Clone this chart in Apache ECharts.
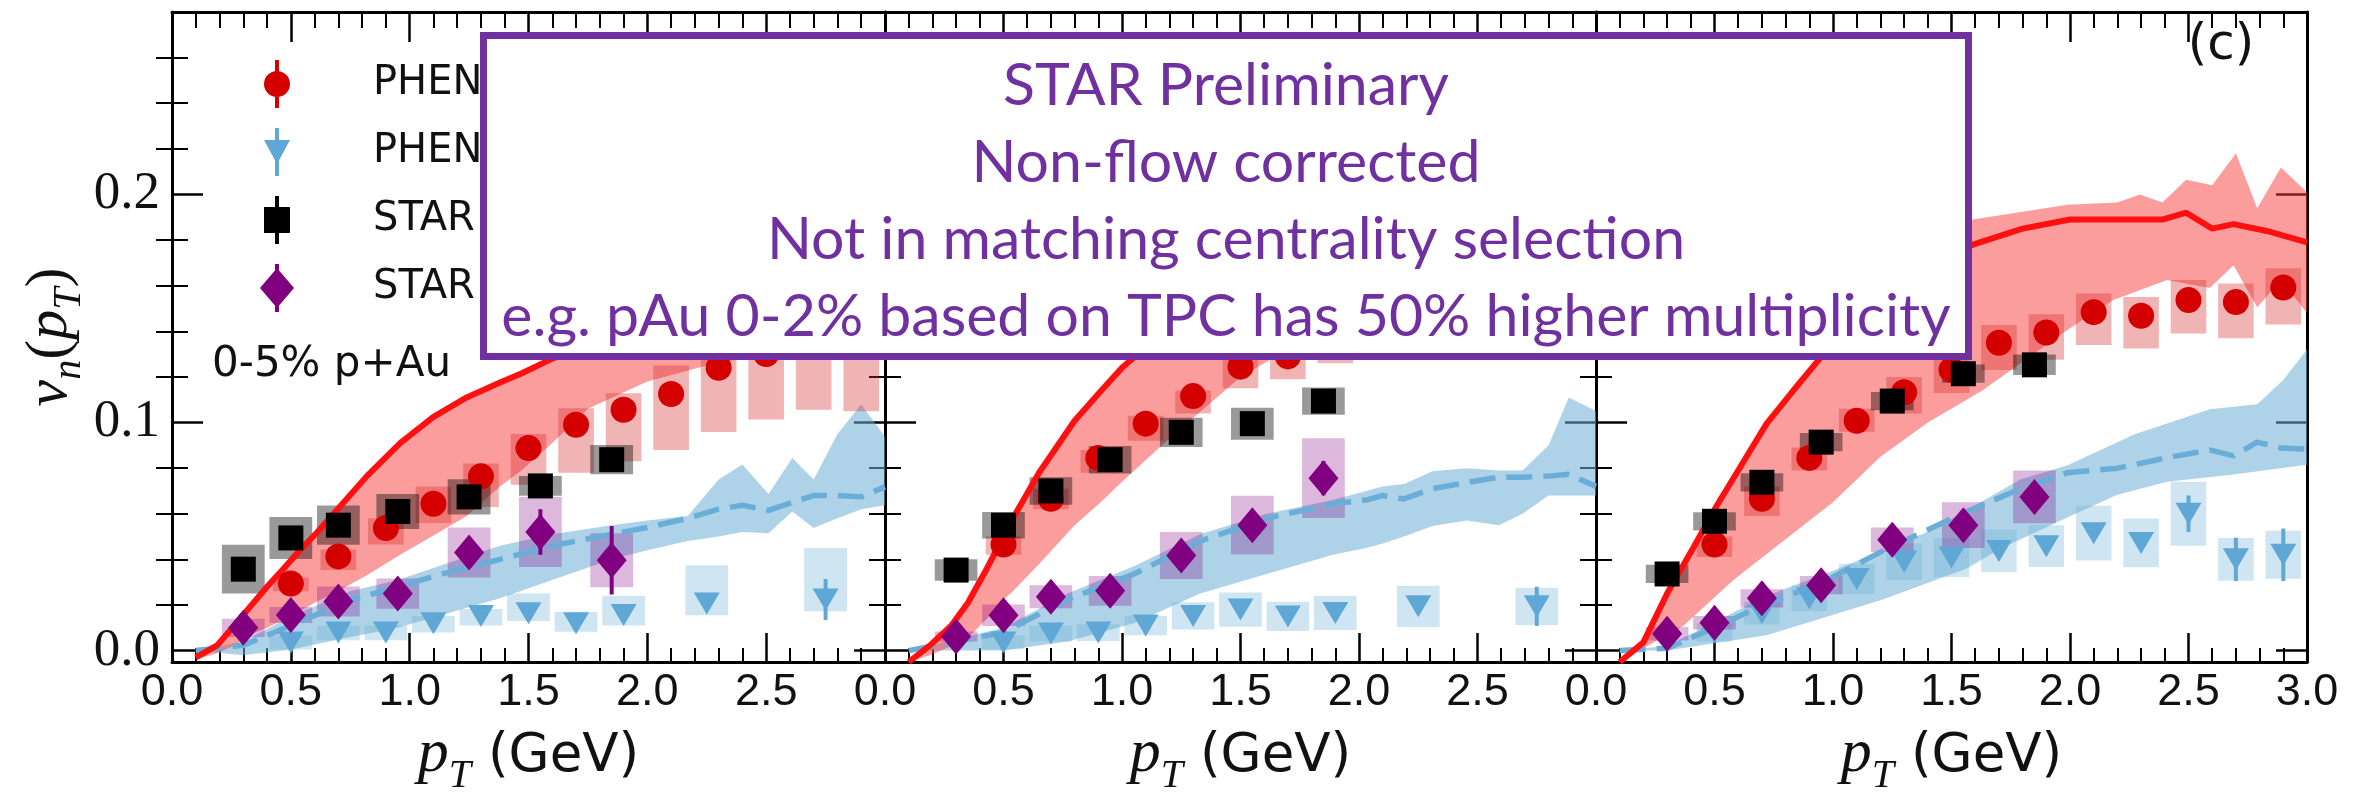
<!DOCTYPE html>
<html><head><meta charset="utf-8">
<script src="https://cdn.jsdelivr.net/npm/echarts@6/dist/echarts.min.js"></script>
<style>html,body{margin:0;padding:0;background:#fff}#c{width:2361px;height:801px}</style>
</head><body><div id="c"></div>
<script>
// ================= DATA =================
const yMajorTicks = [0.0, 0.1, 0.2];
const yMinorTicks = [0.02, 0.04, 0.06, 0.08, 0.12, 0.14, 0.16, 0.18, 0.22, 0.24, 0.26];
const legendNames = ['PHENIX v2', 'PHENIX v3', 'STAR v2', 'STAR v3'];
const annotationLines = ['STAR Preliminary', 'Non-flow corrected', 'Not in matching centrality selection',
  'e.g. pAu 0-2% based on TPC has 50% higher multiplicity'];

// bin centres
const phenixV2Pt = [0.5, 0.7, 0.9, 1.1, 1.3, 1.5, 1.7, 1.9, 2.1, 2.3, 2.5, 2.7, 2.9];
const phenixV3PtA = [0.5, 0.7, 0.9, 1.1, 1.3, 1.5, 1.7, 1.9, 2.25, 2.75];
const phenixV3PtB = [0.5, 0.7, 0.9, 1.1, 1.3, 1.5, 1.7, 1.9, 2.1, 2.3, 2.5, 2.7, 2.9];
const p2PhenixV2Pt = [0.5, 0.7, 0.9, 1.1, 1.3, 1.5, 1.7, 1.9];
const starPt = [0.3, 0.5, 0.7, 0.95, 1.25, 1.55, 1.85];

// ---------- panel 1 ----------
const p1PhenixV2   = [0.0294, 0.0413, 0.0537, 0.0644, 0.0764, 0.0888, 0.0990, 0.1056, 0.1125, 0.1240, 0.1300, 0.1370, 0.1400];
const p1PhenixV2Lo = [0.0260, 0.0353, 0.0465, 0.0560, 0.0630, 0.0727, 0.0780, 0.0830, 0.0880, 0.0958, 0.1013, 0.1056, 0.1049];
const p1PhenixV2Hi = [0.0320, 0.0443, 0.0580, 0.0720, 0.0820, 0.0950, 0.1063, 0.1128, 0.1250, 0.1450, 0.1550, 0.1650, 0.1700];
const p1PhenixV3   = [0.0036, 0.0079, 0.0079, 0.0120, 0.0152, 0.0164, 0.0120, 0.0156, 0.0207, 0.0224];
const p1PhenixV3Lo = [0.0005, 0.0045, 0.0045, 0.0079, 0.0110, 0.0130, 0.0083, 0.0110, 0.0155, 0.0173];
const p1PhenixV3Hi = [0.0065, 0.0110, 0.0110, 0.0152, 0.0182, 0.0250, 0.0170, 0.0240, 0.0374, 0.0450];
const p1PhenixV3Err = [0, 0, 0, 0, 0, 0, 0, 0, 0, 0.0090];
const p1StarV2     = [0.0357, 0.0494, 0.0550, 0.0610, 0.0674, 0.0722, 0.0837];
const p1StarV2Sys  = [0.0107, 0.0092, 0.0086, 0.0077, 0.0077, 0.0043, 0.0064];
const p1StarV3     = [0.0100, 0.0156, 0.0215, 0.0250, 0.0430, 0.0520, 0.0396];
const p1StarV3Sys  = [0.0040, 0.0035, 0.0066, 0.0066, 0.0110, 0.0154, 0.0118];
const p1StarV3Err  = [0, 0, 0, 0, 0, 0.0100, 0.0150];
const p1ThV2Pt = [0.10, 0.19, 0.26, 0.33, 0.40, 0.47, 0.54, 0.61, 0.68, 0.82, 0.96, 1.10, 1.24, 1.38, 1.47, 1.60, 1.75, 2.00, 2.25, 2.50, 2.75, 3.00];
const p1ThV2   = [-0.003, 0.0023, 0.0108, 0.0194, 0.0280, 0.0360, 0.0442, 0.0518, 0.0600, 0.0765, 0.0910, 0.1025, 0.1110, 0.1175, 0.1215, 0.1280, 0.1350, 0.1440, 0.1510, 0.1560, 0.1600, 0.1620];
const p1ThV2Lo = [-0.004, -0.001, 0.0020, 0.0072, 0.0100, 0.0135, 0.0175, 0.0215, 0.0250, 0.0330, 0.0420, 0.0505, 0.0590, 0.0720, 0.0790, 0.0910, 0.1060, 0.1180, 0.1250, 0.1300, 0.1330, 0.1350];
const p1ThV3Pt = [0.10, 0.30, 0.50, 0.75, 0.95, 1.15, 1.38, 1.60, 1.85, 2.00, 2.17, 2.30, 2.40, 2.51, 2.61, 2.70, 2.80, 2.90, 3.00];
const p1ThV3   = [0.000, 0.0023, 0.0110, 0.0220, 0.0280, 0.0340, 0.0400, 0.0460, 0.0510, 0.0540, 0.0580, 0.0620, 0.0637, 0.0615, 0.0650, 0.0680, 0.0680, 0.0674, 0.0718];
const p1ThV3Hi = [0.000, 0.0040, 0.0150, 0.0260, 0.0310, 0.0380, 0.0460, 0.0510, 0.0550, 0.0570, 0.0590, 0.0750, 0.0816, 0.0687, 0.0845, 0.0750, 0.0950, 0.1080, 0.0937];
const p1ThV3Lo = [0.000, -0.002, 0.0005, 0.0060, 0.0100, 0.0160, 0.0230, 0.0310, 0.0400, 0.0440, 0.0480, 0.0500, 0.0520, 0.0515, 0.0610, 0.0537, 0.0580, 0.0620, 0.0637];

// ---------- panel 2 ----------
const p2PhenixV2   = [0.0465, 0.0666, 0.0845, 0.0995, 0.1116, 0.1245, 0.1290, 0.1360];
const p2PhenixV2Lo = [0.0420, 0.0620, 0.0780, 0.0920, 0.1040, 0.1150, 0.1190, 0.1260];
const p2PhenixV2Hi = [0.0500, 0.0710, 0.0880, 0.1030, 0.1140, 0.1330, 0.1370, 0.1450];
const p2PhenixV3    = [0.0036, 0.0075, 0.0079, 0.0110, 0.0152, 0.0180, 0.0150, 0.0165, 0.0194, 0.0194];
const p2PhenixV3Sys = [0.0030, 0.0035, 0.0037, 0.0043, 0.0060, 0.0075, 0.0064, 0.0075, 0.0090, 0.0082];
const p2PhenixV3Err = [0, 0, 0, 0, 0, 0, 0, 0, 0, 0.0086];
const p2StarV2     = [0.0353, 0.0550, 0.0700, 0.0837, 0.0957, 0.0995, 0.1094];
const p2StarV2Sys  = [0.0047, 0.0058, 0.0060, 0.0060, 0.0064, 0.0070, 0.0060];
const p2StarV3     = [0.0062, 0.0155, 0.0236, 0.0262, 0.0417, 0.0550, 0.0756];
const p2StarV3Sys  = [0.0022, 0.0047, 0.0050, 0.0065, 0.0103, 0.0129, 0.0175];
const p2StarV3Err  = [0, 0, 0, 0, 0, 0, 0.0075];
const p2ThV2Pt = [0.10, 0.19, 0.28, 0.35, 0.43, 0.50, 0.54, 0.65, 0.80, 0.91, 1.00, 1.20, 1.50, 2.00, 2.50, 3.00];
const p2ThV2   = [-0.005, 0.0023, 0.0110, 0.0210, 0.0360, 0.0500, 0.0580, 0.0780, 0.1008, 0.1137, 0.1240, 0.1420, 0.1600, 0.1800, 0.1900, 0.1900];
const p2ThV2Lo = [-0.005, -0.002, 0.0020, 0.0055, 0.0140, 0.0224, 0.0260, 0.0380, 0.0550, 0.0650, 0.0740, 0.0930, 0.1200, 0.1500, 0.1600, 0.1650];
const p2ThV3Pt = [0.10, 0.50, 0.77, 1.05, 1.33, 1.61, 1.89, 2.03, 2.10, 2.19, 2.31, 2.455, 2.59, 2.69, 2.80, 2.885, 3.00];
const p2ThV3   = [0.000, 0.0080, 0.0224, 0.0336, 0.0480, 0.0580, 0.0644, 0.0660, 0.0680, 0.0665, 0.0710, 0.0737, 0.0760, 0.0760, 0.0765, 0.0773, 0.0720];
const p2ThV3Hi = [0.000, 0.0100, 0.0250, 0.0370, 0.0510, 0.0600, 0.0660, 0.0700, 0.0720, 0.0730, 0.0786, 0.0800, 0.0790, 0.0790, 0.0900, 0.1110, 0.1050];
const p2ThV3Lo = [0.000, 0.0000, 0.0040, 0.0120, 0.0250, 0.0336, 0.0420, 0.0450, 0.0470, 0.0500, 0.0546, 0.0570, 0.0550, 0.0600, 0.0680, 0.0680, 0.0680];

// ---------- panel 3 ----------
const p3PhenixV2   = [0.0465, 0.0666, 0.0845, 0.1008, 0.1133, 0.1231, 0.1350, 0.1395, 0.1484, 0.1468, 0.1537, 0.1528, 0.1592];
const p3PhenixV2Lo = [0.0410, 0.0590, 0.0790, 0.0960, 0.1040, 0.1130, 0.1230, 0.1275, 0.1340, 0.1325, 0.1390, 0.1370, 0.1430];
const p3PhenixV2Hi = [0.0500, 0.0720, 0.0890, 0.1060, 0.1200, 0.1297, 0.1428, 0.1475, 0.1566, 0.1550, 0.1625, 0.1610, 0.1676];
const p3PhenixV3    = [0.0080, 0.0164, 0.0230, 0.0314, 0.0390, 0.0408, 0.0437, 0.0458, 0.0515, 0.0472, 0.0600, 0.0400, 0.0420];
const p3PhenixV3Sys = [0.0040, 0.0050, 0.0057, 0.0067, 0.0080, 0.0085, 0.0094, 0.0092, 0.0120, 0.0107, 0.0140, 0.0094, 0.0105];
const p3PhenixV3Err = [0, 0, 0, 0, 0, 0, 0, 0, 0, 0, 0.0080, 0.0095, 0.0115];
const p3StarV2     = [0.0336, 0.0567, 0.0738, 0.0914, 0.1094, 0.1214, 0.1253];
const p3StarV2Sys  = [0.0040, 0.0040, 0.0040, 0.0040, 0.0040, 0.0040, 0.0045];
const p3StarV3     = [0.0074, 0.0122, 0.0229, 0.0287, 0.0486, 0.0550, 0.0674];
const p3StarV3Sys  = [0.0030, 0.0030, 0.0040, 0.0040, 0.0054, 0.0100, 0.0116];
const p3StarV3Err  = [0, 0, 0, 0, 0, 0, 0];
const p3ThV2Pt = [0.10, 0.20, 0.30, 0.41, 0.51, 0.61, 0.72, 0.83, 1.00, 1.20, 1.40, 1.59, 1.80, 2.00, 2.20, 2.39, 2.49, 2.60, 2.69, 2.83, 3.00];
const p3ThV2   = [-0.005, 0.0036, 0.0250, 0.0450, 0.0636, 0.0807, 0.0995, 0.1137, 0.1350, 0.1530, 0.1670, 0.1780, 0.1850, 0.1890, 0.1890, 0.1890, 0.1920, 0.1850, 0.1870, 0.1840, 0.1790];
const p3ThV2HiPt = [0.10, 0.20, 0.30, 0.41, 0.51, 0.61, 0.72, 0.83, 1.00, 1.20, 1.40, 1.59, 1.99, 2.20, 2.295, 2.39, 2.49, 2.60, 2.70, 2.79, 2.89, 3.00];
const p3ThV2Hi   = [-0.005, 0.0036, 0.0250, 0.0450, 0.0636, 0.0807, 0.0995, 0.1137, 0.1380, 0.1580, 0.1740, 0.1890, 0.1955, 0.1965, 0.2000, 0.1965, 0.2065, 0.2040, 0.2180, 0.1940, 0.2118, 0.2010];
const p3ThV2LoPt = [0.10, 0.20, 0.37, 0.58, 0.79, 1.00, 1.20, 1.40, 1.63, 1.99, 2.18, 2.41, 2.59, 2.69, 2.79, 2.89, 3.00];
const p3ThV2Lo   = [-0.005, 0.0010, 0.0110, 0.0310, 0.0480, 0.0650, 0.0850, 0.1000, 0.1140, 0.1407, 0.1536, 0.1625, 0.1590, 0.1690, 0.1505, 0.1625, 0.1480];
const p3ThV3Pt = [0.10, 0.30, 0.49, 0.72, 0.945, 1.21, 1.565, 1.79, 1.99, 2.20, 2.41, 2.59, 2.69, 2.79, 2.89, 3.00];
const p3ThV3   = [0.000, 0.0010, 0.0096, 0.0207, 0.0293, 0.0437, 0.0610, 0.0709, 0.0780, 0.0800, 0.0846, 0.0880, 0.0854, 0.0914, 0.0888, 0.0884];
const p3ThV3HiPt = [0.10, 0.30, 0.49, 0.72, 1.00, 1.42, 1.79, 1.99, 2.27, 2.59, 2.79, 2.90, 3.00];
const p3ThV3Hi   = [0.000, 0.0020, 0.0120, 0.0240, 0.0350, 0.0530, 0.0750, 0.0813, 0.0947, 0.1058, 0.1080, 0.1187, 0.1320];
const p3ThV3LoPt = [0.10, 0.30, 0.72, 1.21, 1.565, 1.70, 1.99, 2.20, 2.41, 2.69, 3.00];
const p3ThV3Lo   = [0.000, 0.0000, 0.0067, 0.0224, 0.0360, 0.0443, 0.0585, 0.0683, 0.0740, 0.0772, 0.0815];

// ================= BUILD =================
const plus = (v, s) => v.map((x, k) => x + s[k]);
const minus = (v, s) => v.map((x, k) => x - s[k]);

const panels = [
  { pv2Pt: phenixV2Pt, pv2: p1PhenixV2, pv2Lo: p1PhenixV2Lo, pv2Hi: p1PhenixV2Hi,
    pv3Pt: phenixV3PtA, pv3: p1PhenixV3, pv3Lo: p1PhenixV3Lo, pv3Hi: p1PhenixV3Hi, pv3Err: p1PhenixV3Err, pv3W: 0.18,
    sv2: p1StarV2, sv2Sys: p1StarV2Sys, sv3: p1StarV3, sv3Sys: p1StarV3Sys, sv3Err: p1StarV3Err,
    t2Pt: p1ThV2Pt, t2: p1ThV2, t2HiPt: p1ThV2Pt, t2Hi: p1ThV2, t2LoPt: p1ThV2Pt, t2Lo: p1ThV2Lo,
    t3Pt: p1ThV3Pt, t3: p1ThV3, t3HiPt: p1ThV3Pt, t3Hi: p1ThV3Hi, t3LoPt: p1ThV3Pt, t3Lo: p1ThV3Lo },
  { pv2Pt: p2PhenixV2Pt, pv2: p2PhenixV2, pv2Lo: p2PhenixV2Lo, pv2Hi: p2PhenixV2Hi,
    pv3Pt: phenixV3PtA, pv3: p2PhenixV3, pv3Lo: minus(p2PhenixV3, p2PhenixV3Sys), pv3Hi: plus(p2PhenixV3, p2PhenixV3Sys), pv3Err: p2PhenixV3Err, pv3W: 0.18,
    sv2: p2StarV2, sv2Sys: p2StarV2Sys, sv3: p2StarV3, sv3Sys: p2StarV3Sys, sv3Err: p2StarV3Err,
    t2Pt: p2ThV2Pt, t2: p2ThV2, t2HiPt: p2ThV2Pt, t2Hi: p2ThV2, t2LoPt: p2ThV2Pt, t2Lo: p2ThV2Lo,
    t3Pt: p2ThV3Pt, t3: p2ThV3, t3HiPt: p2ThV3Pt, t3Hi: p2ThV3Hi, t3LoPt: p2ThV3Pt, t3Lo: p2ThV3Lo },
  { pv2Pt: phenixV2Pt, pv2: p3PhenixV2, pv2Lo: p3PhenixV2Lo, pv2Hi: p3PhenixV2Hi,
    pv3Pt: phenixV3PtB, pv3: p3PhenixV3, pv3Lo: minus(p3PhenixV3, p3PhenixV3Sys), pv3Hi: plus(p3PhenixV3, p3PhenixV3Sys), pv3Err: p3PhenixV3Err, pv3W: 0.15,
    sv2: p3StarV2, sv2Sys: p3StarV2Sys, sv3: p3StarV3, sv3Sys: p3StarV3Sys, sv3Err: p3StarV3Err,
    t2Pt: p3ThV2Pt, t2: p3ThV2, t2HiPt: p3ThV2HiPt, t2Hi: p3ThV2Hi, t2LoPt: p3ThV2LoPt, t2Lo: p3ThV2Lo,
    t3Pt: p3ThV3Pt, t3: p3ThV3, t3HiPt: p3ThV3HiPt, t3Hi: p3ThV3Hi, t3LoPt: p3ThV3LoPt, t3Lo: p3ThV3Lo }
];

const C = {
  red: '#d40000', redLine: '#ff1010', redBand: 'rgba(250,60,60,0.50)', redBox: 'rgba(215,40,40,0.35)',
  blue: '#5fa8d6', blueLine: '#6aaed8', blueBand: 'rgba(107,174,214,0.55)', blueBox: 'rgba(107,174,214,0.32)',
  black: '#000000', grayBox: 'rgba(0,0,0,0.40)', purple: '#800080', purpleBox: 'rgba(128,0,128,0.28)'
};
const Y_MIN = -0.005, Y_MAX = 0.28;
const gridLeft = [172, 885, 1596], gridW = [713, 711, 711];

function pairs(xs, ys) { return xs.map((x, k) => [x, ys[k]]); }
function ax(gi) { return { xAxisIndex: 2 * gi, yAxisIndex: 4 * gi, silent: true, animation: false }; }

function bandSeries(gi, hiPt, hi, loPt, lo, color, z) {
  const poly = pairs(hiPt, hi).concat(pairs(loPt, lo).reverse());
  return Object.assign(ax(gi), { type: 'custom', z, clip: true, data: poly,
    renderItem: (p, api) => {
      if (p.dataIndex !== 0) return null;
      return { type: 'polygon', shape: { points: poly.map(q => api.coord(q)) }, style: { fill: color } };
    } });
}
function boxSeries(gi, pts, lo, hi, w, color, z) {
  return Object.assign(ax(gi), { type: 'custom', z, clip: true,
    data: pts.map((x, k) => [x, lo[k], hi[k]]), encode: { x: 0, y: [1, 2] },
    renderItem: (p, api) => {
      const x = api.value(0), a = api.coord([x - w / 2, api.value(2)]), b = api.coord([x + w / 2, api.value(1)]);
      return { type: 'rect', shape: { x: a[0], y: a[1], width: b[0] - a[0], height: b[1] - a[1] }, style: { fill: color } };
    } });
}
function errSeries(gi, pts, vals, errs, color, z) {
  const rows = [];
  pts.forEach((x, k) => { if (errs[k] > 0) rows.push([x, vals[k] - errs[k], vals[k] + errs[k]]); });
  return Object.assign(ax(gi), { type: 'custom', z, data: rows, encode: { x: 0, y: [1, 2] },
    renderItem: (p, api) => {
      const a = api.coord([api.value(0), api.value(2)]), b = api.coord([api.value(0), api.value(1)]);
      return { type: 'line', shape: { x1: a[0], y1: a[1], x2: b[0], y2: b[1] }, style: { stroke: color, lineWidth: 4 } };
    } });
}
function lineSeries(gi, xs, ys, color, type, w, z) {
  return Object.assign(ax(gi), { type: 'line', z, data: pairs(xs, ys), symbol: 'none', showSymbol: false,
    lineStyle: { color, width: w, type } });
}
function scatter(gi, name, xs, ys, symbol, size, color, rot, z) {
  return Object.assign(ax(gi), { type: 'scatter', name, z, data: pairs(xs, ys), symbol, symbolSize: size,
    symbolRotate: rot || 0, itemStyle: { color, opacity: 1 } });
}

const series = [];
panels.forEach((d, gi) => {
  series.push(bandSeries(gi, d.t3HiPt, d.t3Hi, d.t3LoPt, d.t3Lo, C.blueBand, 1));
  series.push(bandSeries(gi, d.t2HiPt, d.t2Hi, d.t2LoPt, d.t2Lo, C.redBand, 1));
  series.push(boxSeries(gi, d.pv2Pt, d.pv2Lo, d.pv2Hi, 0.15, C.redBox, 2));
  series.push(boxSeries(gi, d.pv3Pt, d.pv3Lo, d.pv3Hi, d.pv3W, C.blueBox, 2));
  series.push(boxSeries(gi, starPt, minus(d.sv2, d.sv2Sys), plus(d.sv2, d.sv2Sys), 0.18, C.grayBox, 2));
  series.push(boxSeries(gi, starPt, minus(d.sv3, d.sv3Sys), plus(d.sv3, d.sv3Sys), 0.18, C.purpleBox, 2));
  series.push(lineSeries(gi, d.t3Pt, d.t3, C.blueLine, [26, 11], 5.5, 3));
  series.push(lineSeries(gi, d.t2Pt, d.t2, C.redLine, 'solid', 6, 3));
  series.push(errSeries(gi, d.pv3Pt, d.pv3, d.pv3Err, C.blue, 4));
  series.push(errSeries(gi, starPt, d.sv3, d.sv3Err, C.purple, 4));
  series.push(scatter(gi, legendNames[0], d.pv2Pt, d.pv2, 'circle', 26, C.red, 0, 5));
  series.push(scatter(gi, legendNames[1], d.pv3Pt, d.pv3, 'triangle', [26, 22], C.blue, 180, 5));
  series.push(scatter(gi, legendNames[2], starPt, d.sv2, 'rect', 25, C.black, 0, 5));
  series.push(scatter(gi, legendNames[3], starPt, d.sv3, 'diamond', [30, 36], C.purple, 0, 5));
});

const tickFmt = v => Number(v).toFixed(1);
const xName = '{i|p}{s|T}{t| (GeV)}';
const xNameRich = {
  i: { fontFamily: 'Liberation Serif', fontStyle: 'italic', fontSize: 62, lineHeight: 62, verticalAlign: 'top', color: '#111' },
  s: { fontFamily: 'Liberation Serif', fontStyle: 'italic', fontSize: 40, lineHeight: 40, verticalAlign: 'top', padding: [32, 0, 0, 0], color: '#111' },
  t: { fontFamily: 'DejaVu Sans', fontSize: 53, lineHeight: 53, verticalAlign: 'top', padding: [7, 0, 0, 0], color: '#111' }
};
const yName = '{i|v}{s|n}{u|(}{i|p}{s|T}{u|)}';
const yNameRich = {
  i: { fontFamily: 'Liberation Serif', fontStyle: 'italic', fontSize: 60, lineHeight: 60, verticalAlign: 'top', color: '#111' },
  s: { fontFamily: 'Liberation Serif', fontStyle: 'italic', fontSize: 40, lineHeight: 40, verticalAlign: 'top', padding: [30, 0, 0, 0], color: '#111' },
  u: { fontFamily: 'Liberation Serif', fontSize: 60, lineHeight: 60, verticalAlign: 'top', color: '#111' }
};

const grids = [], xAxes = [], yAxes = [];
const frameLine = { show: true, onZero: false, lineStyle: { color: '#000', width: 3 } };
for (let gi = 0; gi < 3; gi++) {
  grids.push({ left: gridLeft[gi], top: 12, width: gridW[gi], height: 665 });
  const xBase = { gridIndex: gi, type: 'value', min: 0, max: 3, interval: 0.5, splitLine: { show: false },
    axisLine: frameLine, minorTick: { show: true, splitNumber: 5, length: 14, lineStyle: { color: '#000', width: 2 } } };
  xAxes.push(Object.assign({}, xBase, { position: 'bottom',
    axisTick: { show: true, inside: true, length: 29, lineStyle: { color: '#000', width: 2.5 } },
    axisLabel: { show: true, margin: 8, formatter: tickFmt, fontFamily: 'Liberation Sans', fontSize: 45, color: '#111',
      showMinLabel: true, showMaxLabel: gi === 2 },
    name: xName, nameLocation: 'middle', nameGap: 62, nameTextStyle: { rich: xNameRich } }));
  xAxes.push(Object.assign({}, xBase, { position: 'top',
    axisTick: { show: true, inside: true, length: 30, lineStyle: { color: '#000', width: 2.5 } },
    minorTick: { show: true, splitNumber: 5, length: 16, lineStyle: { color: '#000', width: 2 } },
    axisLabel: { show: false } }));
  const yBase = { gridIndex: gi, type: 'value', min: Y_MIN, max: Y_MAX, splitLine: { show: false } };
  ['left', 'right'].forEach(pos => {
    const showLabel = gi === 0 && pos === 'left';
    yAxes.push(Object.assign({}, yBase, { position: pos, axisLine: frameLine,
      axisTick: { show: true, inside: true, length: 31, customValues: yMajorTicks, lineStyle: { color: '#000', width: 2.5 } },
      axisLabel: { show: showLabel, customValues: yMajorTicks, margin: 12, formatter: tickFmt,
        fontFamily: 'Liberation Serif', fontSize: 53, color: '#111' },
      name: showLabel ? yName : '', nameLocation: 'middle', nameRotate: 90, nameGap: 92,
      nameTextStyle: { rich: yNameRich } }));
    yAxes.push(Object.assign({}, yBase, { position: pos, axisLine: { show: false },
      axisTick: { show: true, inside: true, length: 16, customValues: yMinorTicks, lineStyle: { color: '#000', width: 2 } },
      axisLabel: { show: false, customValues: yMinorTicks } }));
  });
}

// legend icons (marker with a vertical error bar)
const iconCircle = 'path://M11,0H15V12H11Z M11,36H15V48H11Z M0,24A13,13 0 1,1 26,24A13,13 0 1,1 0,24Z';
const iconTri = 'path://M11,0H15V13H11Z M11,33H15V48H11Z M0,12H26L13,36Z';
const iconSquare = 'path://M11,0H15V12H11Z M11,36H15V48H11Z M0,11H26V37H0Z';
const iconDiamond = 'path://M15,0H19V6H15Z M15,42H19V48H15Z M17,4L34,24L17,44L0,24Z';
const legendIcons = [iconCircle, iconTri, iconSquare, iconDiamond];

const boxText = annotationLines.map((t, k) => ({
  type: 'text', z: 101, x: 1226, y: 86 + k * 77,
  style: { text: t, fontFamily: 'Lato', fontSize: 59, fill: '#7030A0', align: 'center', textAlign: 'center',
    verticalAlign: 'middle', textVerticalAlign: 'middle' }
}));

const option = {
  animation: false,
  backgroundColor: '#fff',
  grid: grids, xAxis: xAxes, yAxis: yAxes, series,
  legend: {
    left: 260, top: 60, orient: 'vertical', padding: 0, itemWidth: 182, itemHeight: 48, itemGap: 20,
    symbolRotate: 0, symbolKeepAspect: true, selectedMode: false,
    textStyle: { fontFamily: 'DejaVu Sans', fontSize: 40, color: '#111' },
    data: legendNames.map((n, k) => ({ name: n, icon: legendIcons[k] }))
  },
  graphic: [
    { type: 'rect', z: 100, shape: { x: 483.5, y: 35.5, width: 1485, height: 321 },
      style: { fill: '#fff', stroke: '#7030A0', lineWidth: 7 } },
    ...boxText,
    { type: 'text', z: 50, x: 2221, y: 46,
      style: { text: '(c)', fontFamily: 'DejaVu Sans', fontSize: 50, fill: '#111', align: 'center', textAlign: 'center',
        verticalAlign: 'middle', textVerticalAlign: 'middle' } },
    { type: 'text', z: 50, x: 212, y: 365,
      style: { text: '0-5% p+Au', fontFamily: 'DejaVu Sans', fontSize: 42, fill: '#111', align: 'left', textAlign: 'left',
        verticalAlign: 'middle', textVerticalAlign: 'middle' } }
  ]
};

const chart = echarts.init(document.getElementById('c'), null, { renderer: 'canvas' });
chart.setOption(option);
</script>
</body></html>
